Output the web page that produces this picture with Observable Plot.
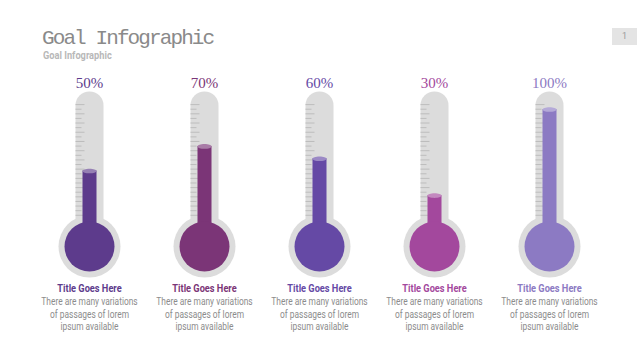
<!DOCTYPE html>
<html>
<head>
<meta charset="utf-8">
<script src="https://cdn.jsdelivr.net/npm/d3@7"></script>
<script src="https://cdn.jsdelivr.net/npm/@observablehq/plot@0.6"></script>
<style>
  html, body { margin: 0; padding: 0; background: #fff; }
  #page { width: 640px; height: 360px; position: relative; overflow: hidden; }
  #header { position: relative; width: 640px; height: 65px; }
  #title { position: absolute; left: 42px; top: 27px; font-family: "Liberation Mono", monospace; font-size: 21px; letter-spacing: -1.9px; line-height: 24px; color: #8a8a8a; white-space: nowrap; }
  #subtitle { position: absolute; left: 43px; top: 50px; font-family: "Roboto", sans-serif; font-weight: bold; font-size: 10.5px; line-height: 12px; color: #b8b8b8; white-space: nowrap; transform: scaleX(0.88); transform-origin: 0 50%; }
  #pagenum { position: absolute; left: 612px; top: 28px; width: 25px; height: 17px; background: #e4e4e4; color: #9a9a9a; font-family: "Roboto", sans-serif; font-size: 9px; line-height: 17px; text-align: center; }
</style>
</head>
<body>
<div id="page">
  <div id="header">
    <div id="title">Goal Infographic</div>
    <div id="subtitle">Goal Infographic</div>
    <div id="pagenum">1</div>
  </div>
  <div id="chart"></div>
</div>
<script>
// ---- data ----
const ids = ["g1", "g2", "g3", "g4", "g5"];
const percents = [50, 70, 60, 30, 100];
const colors = ["#5d3b8c", "#7b3577", "#6549a5", "#a3489d", "#8c7ac3"];
const titles = ["Title Goes Here", "Title Goes Here", "Title Goes Here", "Title Goes Here", "Title Goes Here"];
const bodies = [
  "There are many variations\nof passages of lorem\nipsum available",
  "There are many variations\nof passages of lorem\nipsum available",
  "There are many variations\nof passages of lorem\nipsum available",
  "There are many variations\nof passages of lorem\nipsum available",
  "There are many variations\nof passages of lorem\nipsum available"
];

const data = ids.map((id, i) => ({
  id, value: percents[i], color: colors[i],
  cap: d3.interpolateRgb(colors[i], "#ffffff")(0.35),
  title: titles[i], body: bodies[i]
}));

// decorative graduation ticks along each tube (scale units)
const gradLevels = d3.range(25).map(k => 14 + k * 3.75);
const grads = ids.flatMap(id => gradLevels.map((lv, k) => ({ id, lv, long: k % 2 === 0 })));

const hline = { draw(ctx, size) { const h = Math.sqrt(size / Math.PI); ctx.moveTo(-h, 0); ctx.lineTo(h, 0); } };
const ellipse = { draw(ctx, size) {
  const rx = Math.sqrt(size / Math.PI), ry = rx * 0.33, k = 0.5523;
  ctx.moveTo(rx, 0);
  ctx.bezierCurveTo(rx, ry * k, rx * k, ry, 0, ry);
  ctx.bezierCurveTo(-rx * k, ry, -rx, ry * k, -rx, 0);
  ctx.bezierCurveTo(-rx, -ry * k, -rx * k, -ry, 0, -ry);
  ctx.bezierCurveTo(rx * k, -ry, rx, -ry * k, rx, 0);
  ctx.closePath();
} };

const shell = "#dcdcdc";
const sans = "Roboto, sans-serif";

const chart = Plot.plot({
  width: 640,
  height: 295,
  margin: 0,
  x: { type: "point", domain: ids, range: [88, 549], padding: 0, axis: null },
  y: { domain: [0, 100], range: [167, 44], axis: null },
  color: { type: "identity" },
  marks: [
    // tube shell
    Plot.ruleX(data, { x: "id", y1: 0, y2: 100, dy: -3.5, stroke: shell, strokeWidth: 28, strokeLinecap: "round" }),
    // bulb shell
    Plot.dot(data, { x: "id", y: 0, r: 31, dy: 14, fill: shell }),
    // graduation ticks
    Plot.dot(grads.filter(d => d.long), { x: "id", y: "lv", r: 4.5, dx: -9.5, symbol: hline, stroke: "#bdbdbd", strokeWidth: 1, fill: "none" }),
    Plot.dot(grads.filter(d => !d.long), { x: "id", y: "lv", r: 3, dx: -11, symbol: hline, stroke: "#bdbdbd", strokeWidth: 1, fill: "none" }),
    // liquid
    Plot.ruleX(data, { x: "id", y1: 0, y2: "value", stroke: "color", strokeWidth: 14 }),
    Plot.dot(data, { x: "id", y: "value", r: 7, symbol: ellipse, fill: "cap", stroke: "none" }),
    Plot.dot(data, { x: "id", y: 0, r: 25, dy: 14, fill: "color" }),
    // percent labels
    Plot.text(data, { x: "id", y: 100, dy: -26, text: d => d.value + "%", fill: "color", fontFamily: "'Liberation Serif', serif", fontSize: 15 }),
    // captions
    Plot.text(data, { x: "id", y: 0, dy: 56, text: "title", fill: "color", fontFamily: sans, fontWeight: "bold", fontSize: 11, className: "narrow" }),
    Plot.text(data, { x: "id", y: 0, dy: 81, text: "body", fill: "#8c8c8c", fontFamily: sans, fontSize: 10, lineHeight: 1.27, lineAnchor: "middle", className: "narrow" })
  ]
});
// condense caption lettering (Roboto Condensed look)
chart.querySelectorAll("g.narrow text").forEach(t => {
  const tr = t.getAttribute("transform") || "";
  t.setAttribute("transform", tr + " scale(0.84,1)");
});
document.getElementById("chart").appendChild(chart);
</script>
</body>
</html>
